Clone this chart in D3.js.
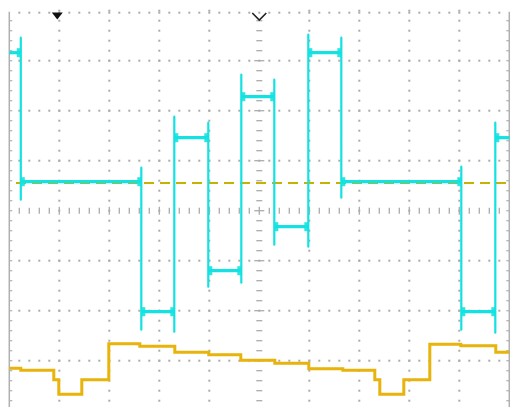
<!DOCTYPE html>
<html><head><meta charset="utf-8">
<script src="https://cdn.jsdelivr.net/npm/d3@7"></script>
<style>html,body{margin:0;padding:0;background:#fff;overflow:hidden;} svg{display:block;}</style>
</head><body>
<svg id="c" width="510" height="407"></svg>
<script>
// Time in divisions (-5..5), amplitude in divisions (-4..4)
// Channel 2 (cyan): 7-level staircase signal
const cyanEdgeT   = [-4.77, -2.36, -1.70, -1.02, -0.36, 0.30, 0.98, 1.64, 4.04, 4.72];
const cyanLevels  = [3.16, 0.58, -2.02, 1.46, -1.20, 2.28, -0.32, 3.16, 0.58, -2.02, 1.46];
const cyanSpikeHi = [3.46, 0.86, 1.88, 1.76, 2.72, 2.62, 3.52, 3.46, 0.88, 1.76];
const cyanSpikeLo = [0.22, -2.38, -2.42, -1.52, -1.44, -0.68, -0.72, 0.26, -2.38, -2.44];
// Channel 1 (yellow): step starts and levels
const yellowT = [-5, -4.77, -4.11, -4.01, -3.55, -3.01, -2.39, -1.69, -1.01, -0.37, 0.31, 0.99, 1.67, 2.31, 2.41, 2.89, 3.41, 4.03, 4.73, 5];
const yellowV = [-3.15, -3.19, -3.38, -3.67, -3.38, -2.66, -2.71, -2.83, -2.88, -2.99, -3.05, -3.16, -3.19, -3.38, -3.67, -3.38, -2.67, -2.70, -2.83, -2.83];
// Trigger level and trigger position
const triggerLevel = 0.554;
const triggerPosT = -4.04;
const timeRef = 0;

const svg = d3.select("#c");
const x = d3.scaleLinear().domain([-5, 5]).range([9.3, 509.3]);
const y = d3.scaleLinear().domain([-4, 4]).range([410.7, 10.7]);

const majorX = d3.range(-4, 5).filter(d => d !== 0);
const majorY = d3.range(-3, 4).filter(d => d !== 0);
const minorX = d3.range(0, 51).map(i => -5 + i * 0.2);
const minorY = d3.range(0, 41).map(i => -4 + i * 0.2);
const gridCol = "#ababab";

const g = svg.append("g");
majorX.forEach(k => {
  g.selectAll(null).data(minorY.slice(1)).enter().append("rect")
    .attr("x", x(k) - 1).attr("y", d => y(d) - 1).attr("width", 2).attr("height", 2)
    .attr("fill", gridCol);
});
majorY.forEach(k => {
  g.selectAll(null).data(minorX.slice(1, -1)).enter().append("rect")
    .attr("x", d => x(d) - 1).attr("y", y(k) - 1).attr("width", 2).attr("height", 2)
    .attr("fill", gridCol);
});
g.selectAll(null).data(minorX.slice(1, -1)).enter().append("rect")
  .attr("x", d => x(d) - 1).attr("y", y(4) + 1).attr("width", 2).attr("height", 2)
  .attr("fill", gridCol);
[x(-5), x(5)].forEach((bx, i) => {
  g.append("line").attr("x1", bx).attr("x2", bx).attr("y1", y(4) + 1).attr("y2", y(-4))
    .attr("stroke", "#b0b0b0").attr("stroke-width", 1.5);
  const dir = i === 0 ? 1 : -1;
  g.selectAll(null).data(minorY.slice(1, -1)).enter().append("line")
    .attr("x1", bx).attr("x2", bx + dir * 3).attr("y1", d => y(d)).attr("y2", d => y(d))
    .attr("stroke", "#b0b0b0").attr("stroke-width", 1.2);
});
const isMajor = d => Math.abs(d - Math.round(d)) < 1e-6;
g.selectAll(null).data(minorX.slice(1, -1)).enter().append("line")
  .attr("x1", d => x(d)).attr("x2", d => x(d))
  .attr("y1", d => y(0) - (isMajor(d) ? 4 : 3))
  .attr("y2", d => y(0) + (isMajor(d) ? 4 : 3))
  .attr("stroke", gridCol).attr("stroke-width", 1.3);
g.selectAll(null).data(minorY.slice(1, -1)).enter().append("line")
  .attr("y1", d => y(d)).attr("y2", d => y(d))
  .attr("x1", d => x(0) - (isMajor(d) ? 5 : 3))
  .attr("x2", d => x(0) + (isMajor(d) ? 5 : 3))
  .attr("stroke", gridCol).attr("stroke-width", 1.3);

// trigger level dashed line
svg.append("line")
  .attr("x1", 16).attr("x2", x(5)).attr("y1", y(triggerLevel)).attr("y2", y(triggerLevel))
  .attr("stroke", "#c4b300").attr("stroke-width", 2).attr("stroke-dasharray", "10 6");

// yellow trace
const yPts = yellowT.map((t, i) => [t, yellowV[i]]);
svg.append("path").datum(yPts)
  .attr("d", d3.line().x(d => x(d[0])).y(d => y(d[1])).curve(d3.curveStepAfter))
  .attr("fill", "none").attr("stroke", "#e8b30a").attr("stroke-width", 3);

// cyan trace: edges (thin) + levels (thicker, noisy)
const cyanCol = "#14e2e2";
const cPts = [[-5, cyanLevels[0]]];
cyanEdgeT.forEach((t, i) => {
  cPts.push([t, cyanLevels[i]], [t, cyanSpikeHi[i]], [t, cyanSpikeLo[i]], [t, cyanLevels[i + 1]]);
});
cPts.push([5, cyanLevels[cyanLevels.length - 1]]);
svg.append("path").datum(cPts)
  .attr("d", d3.line().x(d => x(d[0])).y(d => y(d[1])))
  .attr("fill", "none").attr("stroke", cyanCol).attr("stroke-width", 2.2)
  .attr("stroke-linejoin", "round");
const segStarts = [-5].concat(cyanEdgeT);
const segEnds = cyanEdgeT.concat([5]);
const segs = cyanLevels.map((v, i) => ({ t0: segStarts[i], t1: segEnds[i], v }));
svg.selectAll(null).data(segs).enter().append("line")
  .attr("x1", d => x(d.t0)).attr("x2", d => x(d.t1))
  .attr("y1", d => y(d.v)).attr("y2", d => y(d.v))
  .attr("stroke", cyanCol).attr("stroke-width", 3.2);
const blobs = [];
segs.forEach(s => {
  if (s.t0 > -5) blobs.push({ t: s.t0, v: s.v, side: 1 });
  if (s.t1 < 5) blobs.push({ t: s.t1, v: s.v, side: -1 });
});
svg.selectAll(null).data(blobs).enter().append("rect")
  .attr("x", d => d.side > 0 ? x(d.t) : x(d.t) - 4)
  .attr("y", d => y(d.v) - 4.5).attr("width", 4).attr("height", 9)
  .attr("fill", cyanCol).attr("opacity", 0.9);

// markers
const tx = x(triggerPosT);
svg.append("path")
  .attr("d", `M${tx - 5.5},12.5 L${tx + 5.5},12.5 L${tx},19.5 Z`).attr("fill", "#111");
const rx = x(timeRef);
svg.append("path")
  .attr("d", `M${rx - 7},13 L${rx},20 L${rx + 7},13`)
  .attr("fill", "none").attr("stroke", "#222").attr("stroke-width", 1.6);
</script>
</body></html>
